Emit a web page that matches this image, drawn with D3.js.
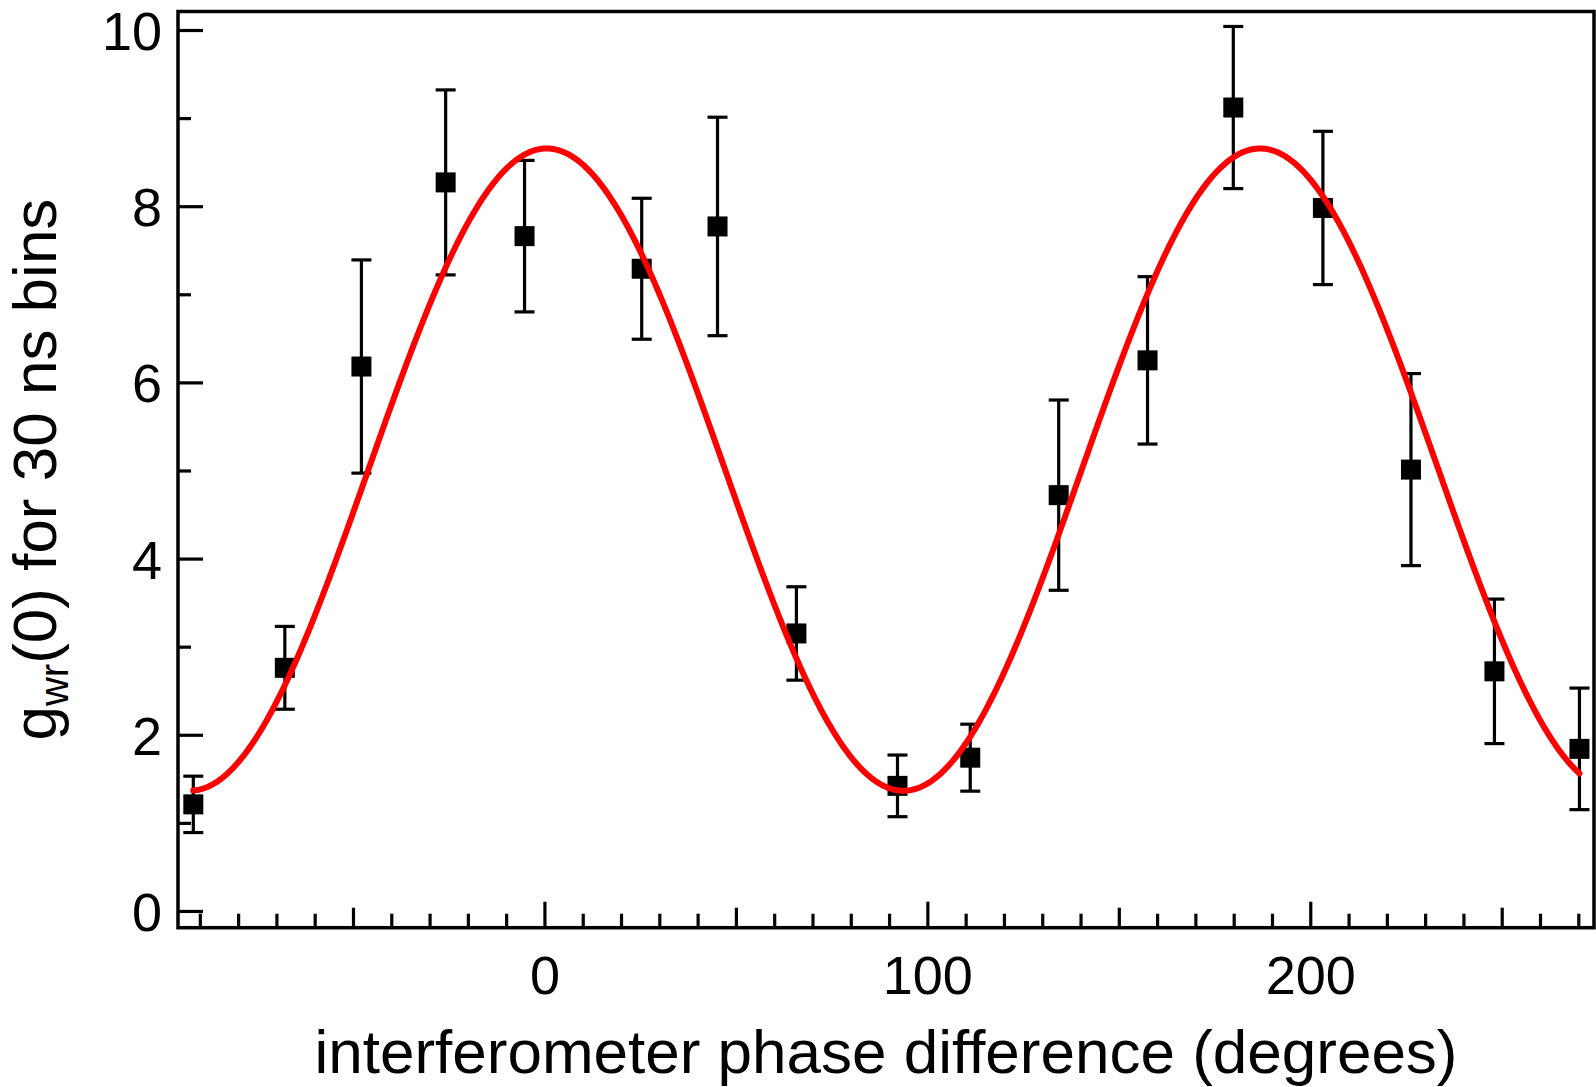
<!DOCTYPE html>
<html>
<head>
<meta charset="utf-8">
<script src="https://cdn.jsdelivr.net/npm/d3@7"></script>
<style>
  html, body { margin: 0; padding: 0; background: #fff; }
  svg { display: block; }
  text { font-family: "Liberation Sans", Arial, Helvetica, sans-serif; fill: #000; }
</style>
</head>
<body>
<svg id="chart" width="1596" height="1087"></svg>
<script>
// Measured g_wr(0) versus interferometer phase, with one-sigma errors
const phaseDeg = [-91.7, -67.8, -47.8, -25.8, -5.2, 25.4, 45.2, 65.8, 92.2, 111.2,
                  134.3, 157.5, 179.9, 203.3, 226.3, 248.1, 270.3];
const gValues  = [1.21, 2.76, 6.18, 8.27, 7.66, 7.29, 7.77, 3.15, 1.42, 1.74,
                  4.72, 6.25, 9.12, 7.98, 5.01, 2.72, 1.84];
const gErrors  = [0.32, 0.47, 1.21, 1.05, 0.86, 0.80, 1.24, 0.53, 0.35, 0.38,
                  1.08, 0.95, 0.92, 0.87, 1.09, 0.82, 0.69];

// Sinusoidal fit: offset, amplitude, phase of maximum (deg), period (deg)
const fitParams = [5.01, 3.645, 0.6, 186.3];

// Axis ticks and labels
const xTickValues = d3.range(-90, 271, 10);
const xTickLabels = [0, 100, 200];
const yTickValues = d3.range(0, 11, 1);
const yTickLabels = [0, 2, 4, 6, 8, 10];

const svg = d3.select("#chart");
const W = 1596, H = 1087;
const plot = { left: 178, right: 1594, top: 11.5, bottom: 927.7 };

const x = d3.scaleLinear().domain([-95.7, 274.1]).range([plot.left, plot.right]);
const y = d3.scaleLinear().domain([-0.19, 10.21]).range([plot.bottom, plot.top]);

svg.append("rect").attr("width", W).attr("height", H).attr("fill", "#fff");

// Bottom axis with inward ticks of three lengths
const xAxis = d3.axisBottom(x)
  .tickValues(xTickValues)
  .tickSize(0)
  .tickFormat(d => xTickLabels.includes(d) ? d : "");
const gx = svg.append("g").attr("transform", `translate(0,${plot.bottom})`).call(xAxis);
gx.select(".domain").remove();
gx.selectAll(".tick line")
  .attr("stroke", "#000").attr("stroke-width", 3.2)
  .attr("y2", d => d % 100 === 0 ? -26 : (d % 50 === 0 ? -20 : -14));
gx.selectAll(".tick text")
  .attr("y", 66).attr("dy", 0)
  .attr("font-size", 54)
  .attr("font-family", "'Liberation Sans', Arial, Helvetica, sans-serif");

// Left axis with inward ticks
const yAxis = d3.axisLeft(y)
  .tickValues(yTickValues)
  .tickSize(0)
  .tickFormat(d => yTickLabels.includes(d) ? d : "");
const gy = svg.append("g").attr("transform", `translate(${plot.left},0)`).call(yAxis);
gy.select(".domain").remove();
gy.selectAll(".tick line")
  .attr("stroke", "#000").attr("stroke-width", 3.2)
  .attr("x2", d => d % 2 === 0 ? 25 : 13);
gy.selectAll(".tick text")
  .attr("x", -16).attr("dy", "0.36em")
  .attr("font-size", 54)
  .attr("font-family", "'Liberation Sans', Arial, Helvetica, sans-serif");

// Plot frame
svg.append("rect")
  .attr("x", plot.left).attr("y", plot.top)
  .attr("width", plot.right - plot.left).attr("height", plot.bottom - plot.top)
  .attr("fill", "none").attr("stroke", "#000").attr("stroke-width", 3.5);

// Data points with error bars
const data = phaseDeg.map((p, i) => ({ p, g: gValues[i], e: gErrors[i] }));
const capHalf = 10, sq = 20;

const pts = svg.append("g");
pts.selectAll("line.stem").data(data).join("line")
  .attr("x1", d => x(d.p)).attr("x2", d => x(d.p))
  .attr("y1", d => y(d.g + d.e)).attr("y2", d => y(d.g - d.e))
  .attr("stroke", "#000").attr("stroke-width", 3.2);
pts.selectAll("line.capTop").data(data).join("line")
  .attr("x1", d => x(d.p) - capHalf).attr("x2", d => x(d.p) + capHalf)
  .attr("y1", d => y(d.g + d.e)).attr("y2", d => y(d.g + d.e))
  .attr("stroke", "#000").attr("stroke-width", 3.2);
pts.selectAll("line.capBot").data(data).join("line")
  .attr("x1", d => x(d.p) - capHalf).attr("x2", d => x(d.p) + capHalf)
  .attr("y1", d => y(d.g - d.e)).attr("y2", d => y(d.g - d.e))
  .attr("stroke", "#000").attr("stroke-width", 3.2);
pts.selectAll("rect").data(data).join("rect")
  .attr("x", d => x(d.p) - sq / 2).attr("y", d => y(d.g) - sq / 2)
  .attr("width", sq).attr("height", sq).attr("fill", "#000");

// Fitted sinusoid
const [off, amp, p0, period] = fitParams;
const fitX = d3.range(phaseDeg[0], phaseDeg[phaseDeg.length - 1] + 0.01, 0.5);
const fitLine = d3.line()
  .x(p => x(p))
  .y(p => y(off + amp * Math.cos(2 * Math.PI * (p - p0) / period)));
svg.append("path")
  .attr("d", fitLine(fitX))
  .attr("fill", "none").attr("stroke", "#ff0000")
  .attr("stroke-width", 6).attr("stroke-linecap", "round").attr("stroke-linejoin", "round");

// Axis titles
svg.append("text")
  .attr("x", (plot.left + plot.right) / 2).attr("y", 1073)
  .attr("text-anchor", "middle").attr("font-size", 62)
  .text("interferometer phase difference (degrees)");

const yt = svg.append("text")
  .attr("transform", `translate(56,${(plot.top + plot.bottom) / 2}) rotate(-90)`)
  .attr("text-anchor", "middle").attr("font-size", 62);
yt.append("tspan").text("g");
yt.append("tspan").attr("font-size", 40).attr("dy", 12).text("wr");
yt.append("tspan").attr("dy", -12).text("(0) for 30 ns bins");
</script>
</body>
</html>
